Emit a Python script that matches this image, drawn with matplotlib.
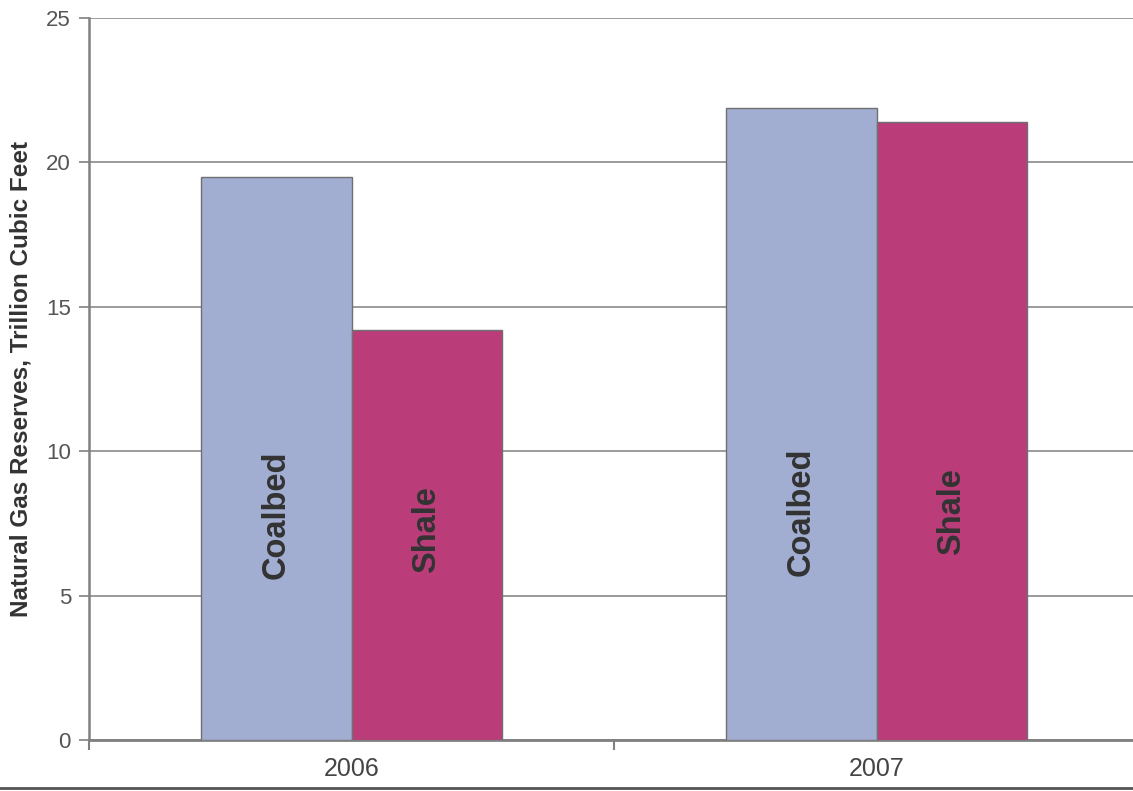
import matplotlib
matplotlib.use("Agg")
import matplotlib.pyplot as plt
from matplotlib.lines import Line2D
import numpy as np

years = ["2006", "2007"]
series_names = ["Coalbed", "Shale"]
coalbed = [19.5, 21.9]
shale = [14.2, 21.4]
yticks = [0, 5, 10, 15, 20, 25]

plt.rcParams['font.family'] = ['Liberation Sans', 'DejaVu Sans']

fig = plt.figure(figsize=(11.33, 7.91), dpi=100)
ax = fig.add_axes([89/1133, 51/791, 1050/1133, 722/791])

x = np.arange(len(years))
w = 0.2876
colors = ["#A1AED1", "#BA3D7A"]
label_y = [[7.8, 7.3], [7.9, 7.9]]
for i, (vals, name, c) in enumerate(zip([coalbed, shale], series_names, colors)):
    off = (i - 0.5) * w
    ax.bar(x + off, vals, width=w, color=c, edgecolor="#707070", linewidth=1, zorder=3)
    for j in range(len(years)):
        ax.text(x[j] + off, label_y[j][i], name, rotation=90, ha="center", va="center",
                fontsize=23.5, fontweight="bold", color="#333333", zorder=4)

ax.set_xlim(-0.5, 1.5)
ax.set_ylim(0, 25)
ax.set_yticks(yticks)
ax.set_yticklabels([str(t) for t in yticks])
ax.yaxis.grid(True, color="#8a8a8a", linewidth=1.2, zorder=0)
ax.set_axisbelow(True)

ax.set_xticks(x)
ax.set_xticklabels(years)
ax.set_xticks([-0.5, 0.5, 1.5], minor=True)
ax.tick_params(axis="x", which="major", length=0, pad=12, labelsize=18, labelcolor="#444444")
ax.tick_params(axis="x", which="minor", length=7, width=1.5, color="#808080", direction="out")
ax.tick_params(axis="y", length=7, width=1.2, color="#808080", pad=6, labelsize=16, labelcolor="#555555")

for s in ["top", "right"]:
    ax.spines[s].set_visible(False)
ax.spines["left"].set_color("#808080")
ax.spines["left"].set_linewidth(1.8)
ax.spines["bottom"].set_color("#808080")
ax.spines["bottom"].set_linewidth(2)

ax.set_ylabel("Natural Gas Reserves, Trillion Cubic Feet", fontsize=17.5, fontweight="bold",
              color="#333333", labelpad=10)

fig.add_artist(Line2D([0, 1], [3.5/791, 3.5/791], color="#555555", linewidth=2, transform=fig.transFigure))

fig.savefig("out.png", dpi=100)
